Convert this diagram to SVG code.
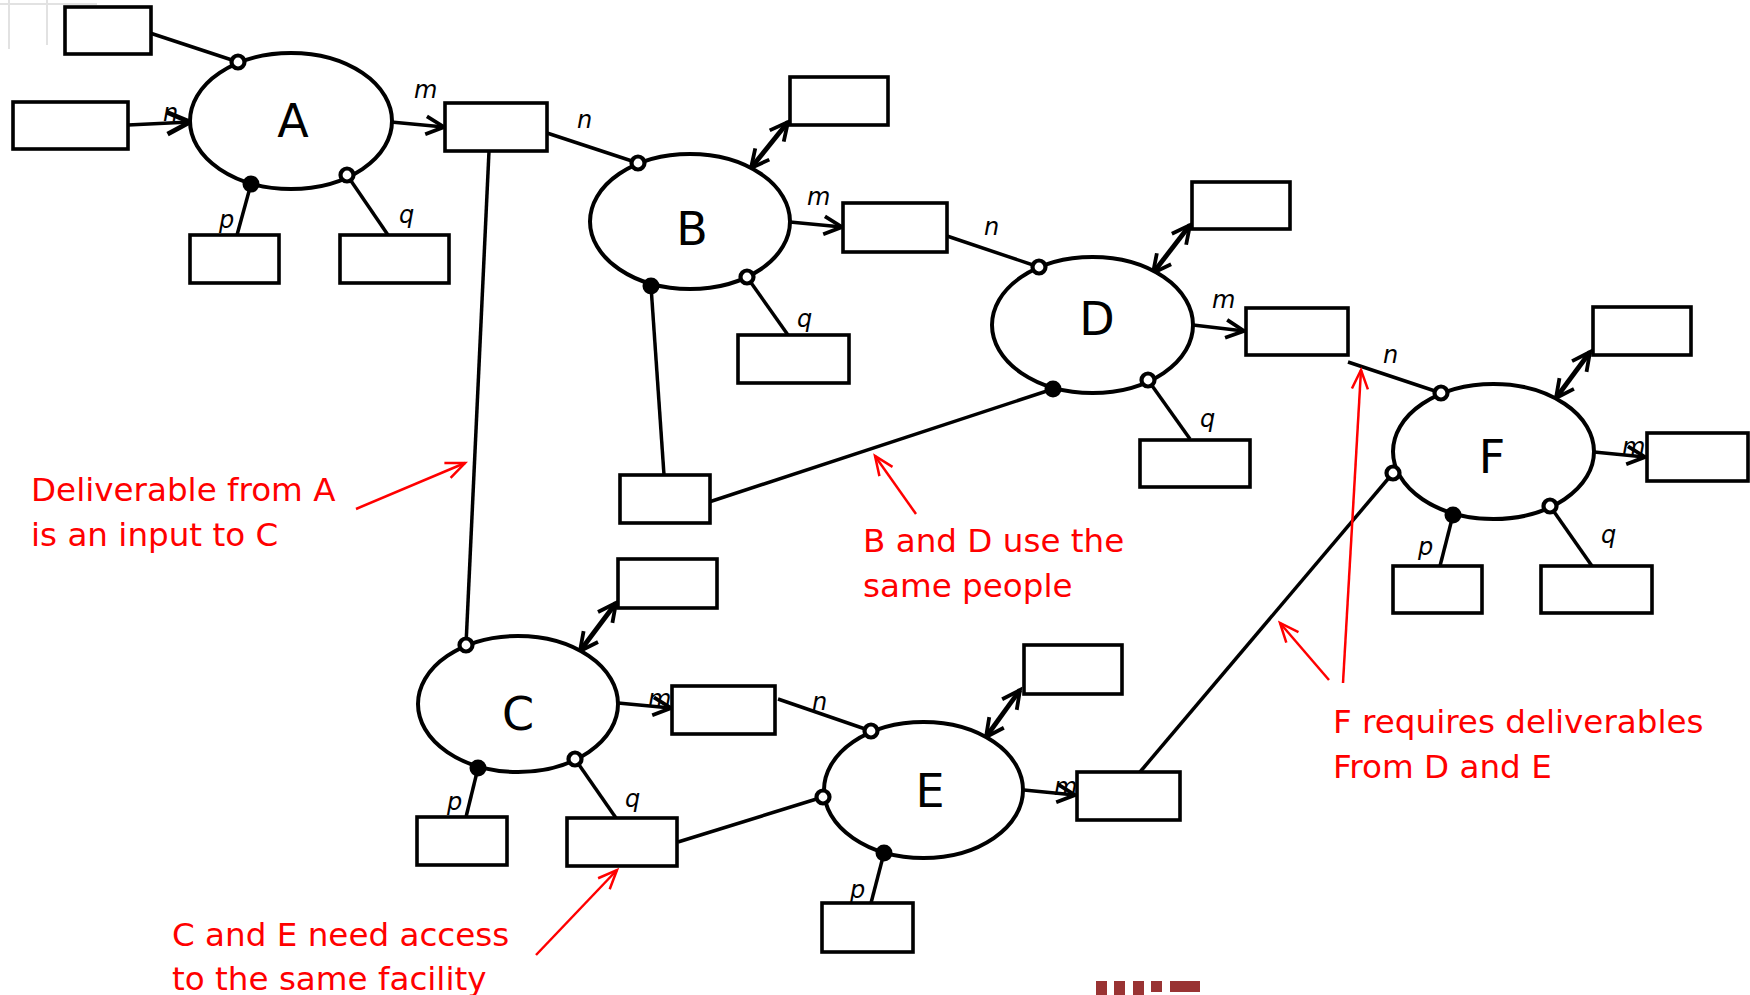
<svg xmlns="http://www.w3.org/2000/svg" width="1750" height="995" viewBox="0 0 1750 995">
<style>
.box{fill:#fff;stroke:#000;stroke-width:3.6}
.ell{fill:#fff;stroke:#000;stroke-width:4}
.ln{stroke:#000;stroke-width:3.5;fill:none}
.dbl{stroke:#000;stroke-width:4.8;fill:none}
.oc{fill:#fff;stroke:#000;stroke-width:4.2}
.fc{fill:#000}
.lbl{font-family:"DejaVu Sans","Liberation Sans",sans-serif;font-size:46px;fill:#000;text-anchor:middle}
.it{font-family:"DejaVu Sans","Liberation Sans",sans-serif;font-size:24px;font-style:italic;fill:#000}
.red{font-family:"DejaVu Sans","Liberation Sans",sans-serif;font-size:32.6px;fill:#f00}
.rl{stroke:#f00;stroke-width:2.5;fill:none}
.grey{stroke:#e2e2e2;stroke-width:2}
</style>
<defs>
<marker id="arr" viewBox="-24 -14 28 28" refX="0" refY="0" markerWidth="28" markerHeight="28" markerUnits="userSpaceOnUse" orient="auto-start-reverse">
<path d="M-18,-9 L0,0 L-18,9" fill="none" stroke="#000" stroke-width="3.8"/>
</marker>
<marker id="arrBig" viewBox="-28 -16 32 32" refX="0" refY="0" markerWidth="32" markerHeight="32" markerUnits="userSpaceOnUse" orient="auto">
<path d="M-23,-11 L0,0 L-23,11" fill="none" stroke="#000" stroke-width="4.8"/>
</marker>
<marker id="rarr" viewBox="-24 -14 28 28" refX="0" refY="0" markerWidth="28" markerHeight="28" markerUnits="userSpaceOnUse" orient="auto">
<path d="M-19,-8 L0,0 L-19,8" fill="none" stroke="#f00" stroke-width="2.5"/>
</marker>
</defs>
<rect width="1750" height="995" fill="#fff"/>
<g id="corner">
<line class="grey" x1="9" y1="0" x2="9" y2="49"/>
<line class="grey" x1="47" y1="0" x2="47" y2="45"/>
<line class="grey" x1="0" y1="4" x2="97" y2="4"/>
</g>
<g id="connectors">
<line class="ln" x1="147" y1="32" x2="238" y2="62"/>
<line class="ln" x1="128" y1="125" x2="190" y2="122" stroke-width="5.5" marker-end="url(#arrBig)"/>
<line class="ln" x1="391" y1="122" x2="444" y2="127" marker-end="url(#arr)"/>
<line class="ln" x1="547" y1="133" x2="638" y2="163"/>
<line class="ln" x1="251" y1="184" x2="237" y2="235"/>
<line class="ln" x1="347" y1="175" x2="388" y2="235"/>
<line class="ln" x1="489" y1="151" x2="466" y2="645"/>
<line class="dbl" x1="751" y1="168" x2="788" y2="122" marker-start="url(#arr)" marker-end="url(#arr)"/>
<line class="ln" x1="790" y1="222" x2="842" y2="227" marker-end="url(#arr)"/>
<line class="ln" x1="947" y1="236" x2="1039" y2="267"/>
<line class="ln" x1="651" y1="286" x2="664" y2="475"/>
<line class="ln" x1="747" y1="277" x2="788" y2="335"/>
<line class="dbl" x1="1153" y1="273" x2="1190" y2="225" marker-start="url(#arr)" marker-end="url(#arr)"/>
<line class="ln" x1="1193" y1="325" x2="1244" y2="331" marker-end="url(#arr)"/>
<line class="ln" x1="1348" y1="362" x2="1441" y2="393"/>
<line class="ln" x1="1053" y1="389" x2="706" y2="503"/>
<line class="ln" x1="1148" y1="380" x2="1190" y2="439"/>
<line class="dbl" x1="1556" y1="398" x2="1590" y2="352" marker-start="url(#arr)" marker-end="url(#arr)"/>
<line class="ln" x1="1594" y1="452" x2="1645" y2="457" marker-end="url(#arr)"/>
<line class="ln" x1="1140" y1="772" x2="1393" y2="473"/>
<line class="ln" x1="1453" y1="515" x2="1440" y2="566"/>
<line class="ln" x1="1550" y1="506" x2="1592" y2="566"/>
<line class="dbl" x1="580" y1="651" x2="616" y2="603" marker-start="url(#arr)" marker-end="url(#arr)"/>
<line class="ln" x1="618" y1="703" x2="671" y2="708" marker-end="url(#arr)"/>
<line class="ln" x1="778" y1="699" x2="871" y2="731"/>
<line class="ln" x1="478" y1="768" x2="466" y2="817"/>
<line class="ln" x1="575" y1="759" x2="616" y2="818"/>
<line class="ln" x1="678" y1="842" x2="823" y2="797"/>
<line class="dbl" x1="986" y1="737" x2="1020" y2="690" marker-start="url(#arr)" marker-end="url(#arr)"/>
<line class="ln" x1="1024" y1="790" x2="1075" y2="795" marker-end="url(#arr)"/>
<line class="ln" x1="884" y1="853" x2="871" y2="903"/>
</g>
<g id="nodeA">
<rect class="box" x="65" y="7" width="86" height="47"/>
<rect class="box" x="13" y="102" width="115" height="47"/>
<rect class="box" x="445" y="103" width="102" height="48"/>
<rect class="box" x="190" y="235" width="89" height="48"/>
<rect class="box" x="340" y="235" width="109" height="48"/>
<ellipse class="ell" cx="291" cy="121" rx="101" ry="68"/>
<text class="lbl" x="293" y="137">A</text>
<circle class="oc" cx="238" cy="62" r="6.5"/>
<circle class="fc" cx="251" cy="184" r="8.5"/>
<circle class="oc" cx="347" cy="175" r="6.5"/>
<text class="it" x="163" y="121">n</text>
<text class="it" x="414" y="98">m</text>
<text class="it" x="577" y="128">n</text>
<text class="it" x="219" y="228">p</text>
<text class="it" x="399" y="223">q</text>
</g>
<g id="nodeB">
<rect class="box" x="790" y="77" width="98" height="48"/>
<rect class="box" x="843" y="203" width="104" height="49"/>
<rect class="box" x="738" y="335" width="111" height="48"/>
<rect class="box" x="620" y="475" width="90" height="48"/>
<ellipse class="ell" cx="690" cy="221.5" rx="100" ry="67.5"/>
<text class="lbl" x="692" y="245">B</text>
<circle class="oc" cx="638" cy="163" r="6.5"/>
<circle class="fc" cx="651" cy="286" r="8.5"/>
<circle class="oc" cx="747" cy="277" r="6.5"/>
<text class="it" x="807" y="205">m</text>
<text class="it" x="984" y="235">n</text>
<text class="it" x="797" y="327">q</text>
</g>
<g id="nodeD">
<rect class="box" x="1192" y="182" width="98" height="47"/>
<rect class="box" x="1246" y="308" width="102" height="47"/>
<rect class="box" x="1140" y="440" width="110" height="47"/>
<ellipse class="ell" cx="1092.5" cy="325" rx="100.5" ry="68"/>
<text class="lbl" x="1097" y="335">D</text>
<circle class="oc" cx="1039" cy="267" r="6.5"/>
<circle class="fc" cx="1053" cy="389" r="8.5"/>
<circle class="oc" cx="1148" cy="380" r="6.5"/>
<text class="it" x="1212" y="308">m</text>
<text class="it" x="1383" y="363">n</text>
<text class="it" x="1200" y="427">q</text>
</g>
<g id="nodeF">
<rect class="box" x="1593" y="307" width="98" height="48"/>
<rect class="box" x="1647" y="433" width="101" height="48"/>
<rect class="box" x="1393" y="566" width="89" height="47"/>
<rect class="box" x="1541" y="566" width="111" height="47"/>
<ellipse class="ell" cx="1493.5" cy="451.5" rx="100.5" ry="67.5"/>
<text class="lbl" x="1492" y="473">F</text>
<circle class="oc" cx="1441" cy="393" r="6.5"/>
<circle class="oc" cx="1393" cy="473" r="6.5"/>
<circle class="fc" cx="1453" cy="515" r="8.5"/>
<circle class="oc" cx="1550" cy="506" r="6.5"/>
<text class="it" x="1622" y="455">m</text>
<text class="it" x="1418" y="555">p</text>
<text class="it" x="1601" y="543">q</text>
</g>
<g id="nodeC">
<rect class="box" x="618" y="559" width="99" height="49"/>
<rect class="box" x="672" y="686" width="103" height="48"/>
<rect class="box" x="417" y="817" width="90" height="48"/>
<rect class="box" x="567" y="818" width="110" height="48"/>
<ellipse class="ell" cx="518" cy="704" rx="100" ry="68"/>
<text class="lbl" x="518" y="730">C</text>
<circle class="oc" cx="466" cy="645" r="6.5"/>
<circle class="fc" cx="478" cy="768" r="8.5"/>
<circle class="oc" cx="575" cy="759" r="6.5"/>
<text class="it" x="648" y="707">m</text>
<text class="it" x="812" y="710">n</text>
<text class="it" x="447" y="810">p</text>
<text class="it" x="625" y="807">q</text>
</g>
<g id="nodeE">
<rect class="box" x="1024" y="645" width="98" height="49"/>
<rect class="box" x="1077" y="772" width="103" height="48"/>
<rect class="box" x="822" y="903" width="91" height="49"/>
<ellipse class="ell" cx="923.5" cy="790" rx="99.5" ry="68"/>
<text class="lbl" x="930" y="807">E</text>
<circle class="oc" cx="871" cy="731" r="6.5"/>
<circle class="oc" cx="823" cy="797" r="6.5"/>
<circle class="fc" cx="884" cy="853" r="8.5"/>
<text class="it" x="1054" y="795">m</text>
<text class="it" x="850" y="898">p</text>
</g>
<g id="annotations">
<text class="red" x="31" y="501">Deliverable from A</text>
<text class="red" x="31" y="546">is an input to C</text>
<line class="rl" x1="356" y1="509" x2="465" y2="463" marker-end="url(#rarr)"/>
<text class="red" x="863" y="552">B and D use the</text>
<text class="red" x="863" y="597">same people</text>
<line class="rl" x1="916" y1="514" x2="875" y2="456" marker-end="url(#rarr)"/>
<text class="red" x="1333" y="733">F requires deliverables</text>
<text class="red" x="1333" y="778">From D and E</text>
<line class="rl" x1="1343" y1="683" x2="1361" y2="370" marker-end="url(#rarr)"/>
<line class="rl" x1="1329" y1="680" x2="1280" y2="623" marker-end="url(#rarr)"/>
<text class="red" x="172" y="946">C and E need access</text>
<text class="red" x="172" y="990">to the same facility</text>
<line class="rl" x1="536" y1="955" x2="617" y2="870" marker-end="url(#rarr)"/>
</g>
<g id="footer" fill="#993333">
<rect x="1096" y="981" width="11" height="14"/>
<rect x="1114" y="981" width="11" height="14"/>
<rect x="1133" y="981" width="11" height="14"/>
<rect x="1151" y="981" width="11" height="11"/>
<rect x="1170" y="981" width="30" height="11"/>
</g>
</svg>
